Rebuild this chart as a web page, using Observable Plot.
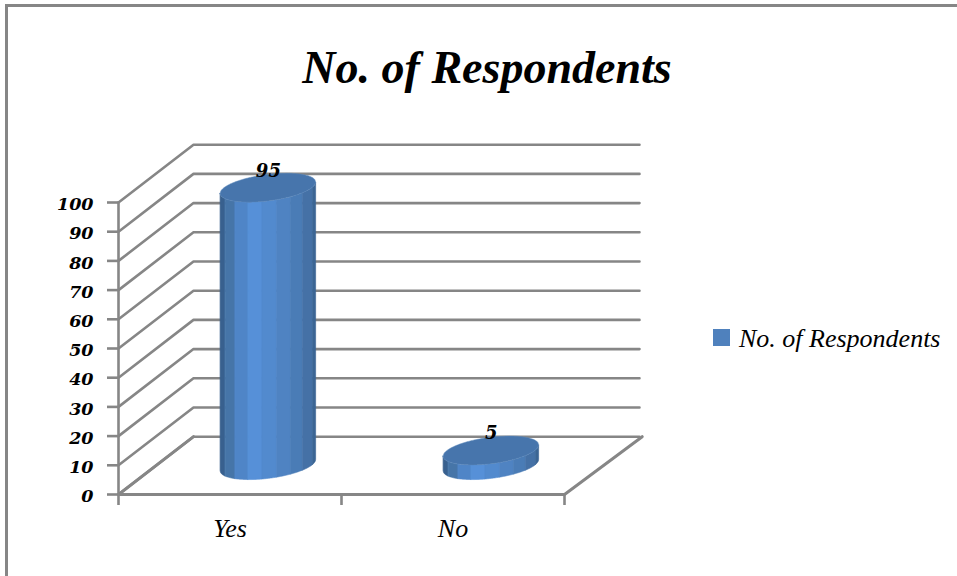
<!DOCTYPE html>
<html><head><meta charset="utf-8">
<script src="https://cdn.jsdelivr.net/npm/d3@7"></script>
<script src="https://cdn.jsdelivr.net/npm/@observablehq/plot@0.6"></script>
<style>
html,body{margin:0;padding:0;background:#fff;overflow:hidden}
#wrap{position:relative;width:957px;height:576px;overflow:hidden}
#frame{position:absolute;left:5px;top:4px;width:1000px;height:700px;border:3px solid #868686;box-sizing:border-box}
#title{position:absolute;left:287px;width:400px;top:38px;text-align:center;white-space:nowrap;font:italic bold 46px "Liberation Serif",serif;color:#000;line-height:60px}
#swatch{position:absolute;left:713px;top:329px;width:17px;height:17px;background:#4f81bd}
#legend{position:absolute;left:739px;top:324px;white-space:nowrap;font:italic 26px "Liberation Serif",serif;color:#000;line-height:30px}
svg{position:absolute;left:0;top:0;background:transparent}
</style></head><body>
<div id="wrap"><div id="frame"></div><div id="plot"></div>
<div id="title">No. of Respondents</div><div id="swatch"></div><div id="legend">No. of Respondents</div></div>
<script>
const categories = ["Yes", "No"];
const respondents = [95, 5];
const yTicks = [0,10,20,30,40,50,60,70,80,90,100];
const stripColors = ["#38608e","#4675a8","#4f85c7","#5690d8","#528ace","#4f83c2","#4a7cb6","#4571a6","#3b6594"];
const stripEdges = [0,0.052,0.156,0.292,0.438,0.594,0.74,0.865,0.97,1];

// oblique-projection constants expressed in scale units
const depthX = 0.3363, depthY = 19.8;
const radX = 0.197, radDepth = 0.25, nudge = 0.004;
const t0 = Math.atan2(depthX*radDepth, radX);
const ell = (c, t) => ({x: c + 0.5 + nudge + radX*Math.cos(t) + depthX*(0.5+radDepth*Math.sin(t)),
                        d: depthY*(0.5+radDepth*Math.sin(t))});

const strips = [], tops = [];
categories.forEach((cat,i)=>{
  const v = respondents[i];
  stripColors.forEach((col,s)=>{
    const n = 14;
    for(let k=0;k<=n;k++){
      const f = stripEdges[s]+(stripEdges[s+1]-stripEdges[s])*k/n;
      const p = ell(i, t0+Math.PI+Math.acos(1-2*f));
      strips.push({x:p.x,y1:p.d,y2:v+p.d,z:cat+s,color:col});
    }
  });
  for(let k=0;k<=120;k++){
    const f = k/120, phi = Math.acos(1-2*f);
    const a = ell(i,t0+Math.PI+phi), b = ell(i,t0+Math.PI-phi);
    tops.push({x:a.x,y1:v+a.d,y2:v+b.d,z:cat});
  }
});
const grid = yTicks.flatMap(v=>[{x:0,y:v,z:v},{x:depthX,y:v+depthY,z:v},{x:2+depthX,y:v+depthY,z:v}]);
const floorEdge = [{x:depthX,y:depthY},{x:0,y:0},{x:2,y:0},{x:2+depthX+0.012,y:depthY}];
const wallEdge = [{x:0,y:0},{x:0,y:100}];
const labels = categories.map((c,i)=>({x:i+0.5,y:0,t:c}));
const values = respondents.map((v,i)=>({x:i+0.5+nudge+depthX*0.5,y:v+depthY*(0.5+radDepth),t:String(v)}));
const gray = "#868686", serif = "Liberation Serif", numeric = "DejaVu Serif";

const chart = Plot.plot({
  width:957,height:576,
  marginLeft:118,marginRight:393,marginTop:202,marginBottom:82,
  x:{domain:[0,2]},y:{domain:[0,100]},
  style:{background:"transparent",overflow:"visible"},
  marks:[
    Plot.line(grid,{x:"x",y:"y",z:"z",stroke:gray,strokeWidth:2.6,curve:"linear"}),
    Plot.line(floorEdge,{x:"x",y:"y",stroke:gray,strokeWidth:3,curve:"linear"}),
    Plot.line(wallEdge,{x:"x",y:"y",stroke:gray,strokeWidth:2.6}),
    Plot.axisY({ticks:yTicks,tickSize:11,tickFormat:()=>"",stroke:gray,strokeWidth:2.6,strokeOpacity:1,label:null}),
    Plot.axisY({ticks:yTicks,tickSize:0,tickPadding:25,dy:2,label:null,
      fontFamily:numeric,fontStyle:"italic",fontWeight:"bold",fontSize:17.5,fill:"#000"}),
    Plot.axisX({ticks:[0,1,2],tickSize:11,tickFormat:()=>"",stroke:gray,strokeWidth:2.6,strokeOpacity:1,label:null}),
    Plot.areaY(strips,{x:"x",y1:"y1",y2:"y2",z:"z",fill:"color",stroke:"color",strokeWidth:0.6,curve:"linear"}),
    Plot.areaY(tops,{x:"x",y1:"y1",y2:"y2",z:"z",fill:"#4775ac",stroke:"#5f8abd",strokeWidth:0.5,curve:"linear"}),
    Plot.text(labels,{x:"x",y:"y",text:"t",dy:34,fontFamily:serif,fontStyle:"italic",fontSize:26,fill:"#000"}),
    Plot.text(values,{x:"x",y:"y",text:"t",dy:-3,fontFamily:numeric,fontStyle:"italic",fontWeight:"bold",fontSize:18,fill:"#000"})
  ]
});
document.getElementById("plot").appendChild(chart);
</script></body></html>
